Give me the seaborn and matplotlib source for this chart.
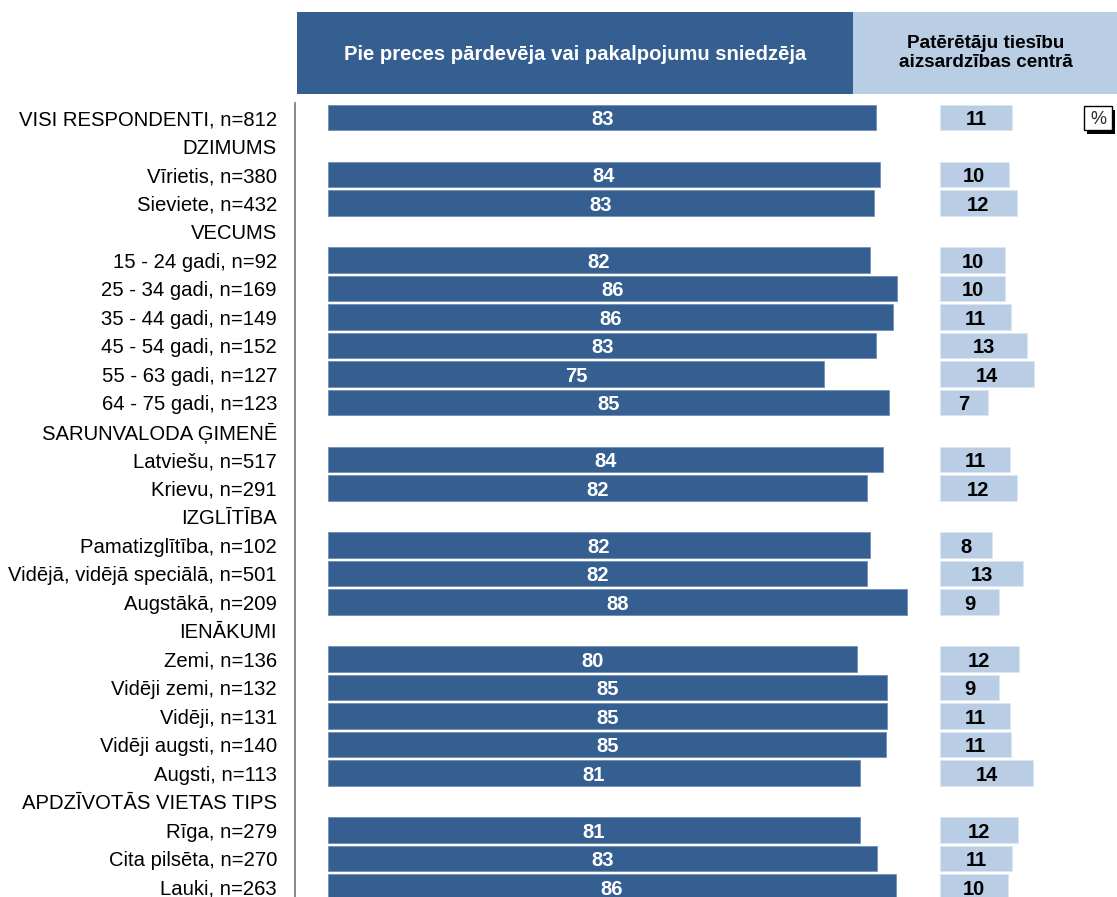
import numpy as np
import matplotlib
matplotlib.use("Agg")
import matplotlib.pyplot as plt
import seaborn as sns
from matplotlib.patches import Rectangle

# data
labels = ["VISI RESPONDENTI, n=812", "DZIMUMS", "Vīrietis, n=380", "Sieviete, n=432",
          "VECUMS", "15 - 24 gadi, n=92", "25 - 34 gadi, n=169", "35 - 44 gadi, n=149",
          "45 - 54 gadi, n=152", "55 - 63 gadi, n=127", "64 - 75 gadi, n=123",
          "SARUNVALODA ĢIMENĒ", "Latviešu, n=517", "Krievu, n=291",
          "IZGLĪTĪBA", "Pamatizglītība, n=102", "Vidējā, vidējā speciālā, n=501", "Augstākā, n=209",
          "IENĀKUMI", "Zemi, n=136", "Vidēji zemi, n=132", "Vidēji, n=131", "Vidēji augsti, n=140",
          "Augsti, n=113", "APDZĪVOTĀS VIETAS TIPS", "Rīga, n=279", "Cita pilsēta, n=270", "Lauki, n=263"]

seller = [83.1, np.nan, 83.6, 82.7, np.nan, 82.1, 86.2, 85.6, 83.1, 75.2, 85.0,
          np.nan, 84.1, 81.6, np.nan, 82.1, 81.6, 87.7, np.nan, 80.2, 84.7, 84.7, 84.6,
          80.6, np.nan, 80.6, 83.2, 86.0]

ptac = [10.9, np.nan, 10.4, 11.6, np.nan, 9.9, 9.9, 10.8, 13.2, 14.2, 7.2,
        np.nan, 10.6, 11.6, np.nan, 7.9, 12.6, 9.0, np.nan, 11.9, 9.0, 10.6, 10.8,
        14.1, np.nan, 11.8, 10.9, 10.3]

header_left = "Pie preces pārdevēja vai pakalpojumu sniedzēja"
header_right = "Patērētāju tiesību\naizsardzības centrā"

dark = "#365f91"
light = "#b9cde5"

sns.set_style("white")
plt.rcParams["font.family"] = ["Liberation Sans", "DejaVu Sans"]

W, H = 1117, 897
fig = plt.figure(figsize=(W / 100, H / 100), dpi=100)

def fx(x):
    return x / W

def fy(y):
    return 1 - y / H

scale = 6.6  # px per percent
row = 28.5
top = 117.5 - row / 2
bottom = top + row * len(labels)

# main bars
x0 = 295
xmin = -(328 - x0) / scale
xmax = 90
ax1 = fig.add_axes([fx(x0), fy(bottom), (xmax - xmin) * scale / W, (bottom - top) / H])
sns.barplot(x=seller, y=labels, order=labels, orient="h", ax=ax1, color=dark,
            width=0.88, edgecolor="#6f8fb8", linewidth=0.6, saturation=1)
ax1.set_xlim(xmin, xmax)
ax1.set_ylim(len(labels) - 0.5, -0.5)
for i, v in enumerate(seller):
    if not np.isnan(v):
        ax1.text(v / 2, i, f"{v:.0f}", ha="center", va="center_baseline", color="white",
                 fontsize=14.5, fontweight="bold")
ax1.set_xticks([])
ax1.set_xlabel("")
ax1.set_ylabel("")
ax1.tick_params(axis="y", length=0, pad=13, labelsize=14.6, labelcolor="black")
for s in ["top", "right", "bottom"]:
    ax1.spines[s].set_visible(False)
ax1.spines["left"].set_color("#7f7f7f")
ax1.spines["left"].set_linewidth(1.3)

# PTAC bars
x2 = 940
xmax2 = 26
ax2 = fig.add_axes([fx(x2), fy(bottom), xmax2 * scale / W, (bottom - top) / H])
sns.barplot(x=ptac, y=labels, order=labels, orient="h", ax=ax2, color=light,
            width=0.88, edgecolor="#dde7f3", linewidth=0.6, saturation=1)
ax2.set_xlim(0, xmax2)
ax2.set_ylim(len(labels) - 0.5, -0.5)
for i, v in enumerate(ptac):
    if not np.isnan(v):
        ax2.text(v / 2, i, f"{v:.0f}", ha="center", va="center_baseline", color="black",
                 fontsize=14.5, fontweight="bold")
ax2.set_xticks([])
ax2.set_yticks([])
ax2.set_xlabel("")
ax2.set_ylabel("")
for s in ax2.spines.values():
    s.set_visible(False)

# header boxes
fig.patches.append(Rectangle((fx(297), fy(94)), fx(853 - 297), (94 - 12) / H,
                             transform=fig.transFigure, facecolor=dark, edgecolor="none"))
fig.patches.append(Rectangle((fx(853), fy(94)), fx(W - 853), (94 - 12) / H,
                             transform=fig.transFigure, facecolor=light, edgecolor="none"))
fig.text(fx(575), fy(54), header_left, ha="center", va="center", color="white",
         fontsize=14.6, fontweight="bold")
fig.text(fx(986), fy(53), header_right, ha="center", va="center", color="black",
         fontsize=13.6, fontweight="bold", linespacing=1.1)

# % box with shadow
fig.patches.append(Rectangle((fx(1087), fy(134)), fx(28), 24 / H,
                             transform=fig.transFigure, facecolor="black", edgecolor="none"))
fig.patches.append(Rectangle((fx(1084), fy(130)), fx(28), 24 / H,
                             transform=fig.transFigure, facecolor="white", edgecolor="black",
                             linewidth=1))
fig.text(fx(1098), fy(119), "%", ha="center", va="center", fontsize=13)

fig.savefig("out.png", dpi=100)
